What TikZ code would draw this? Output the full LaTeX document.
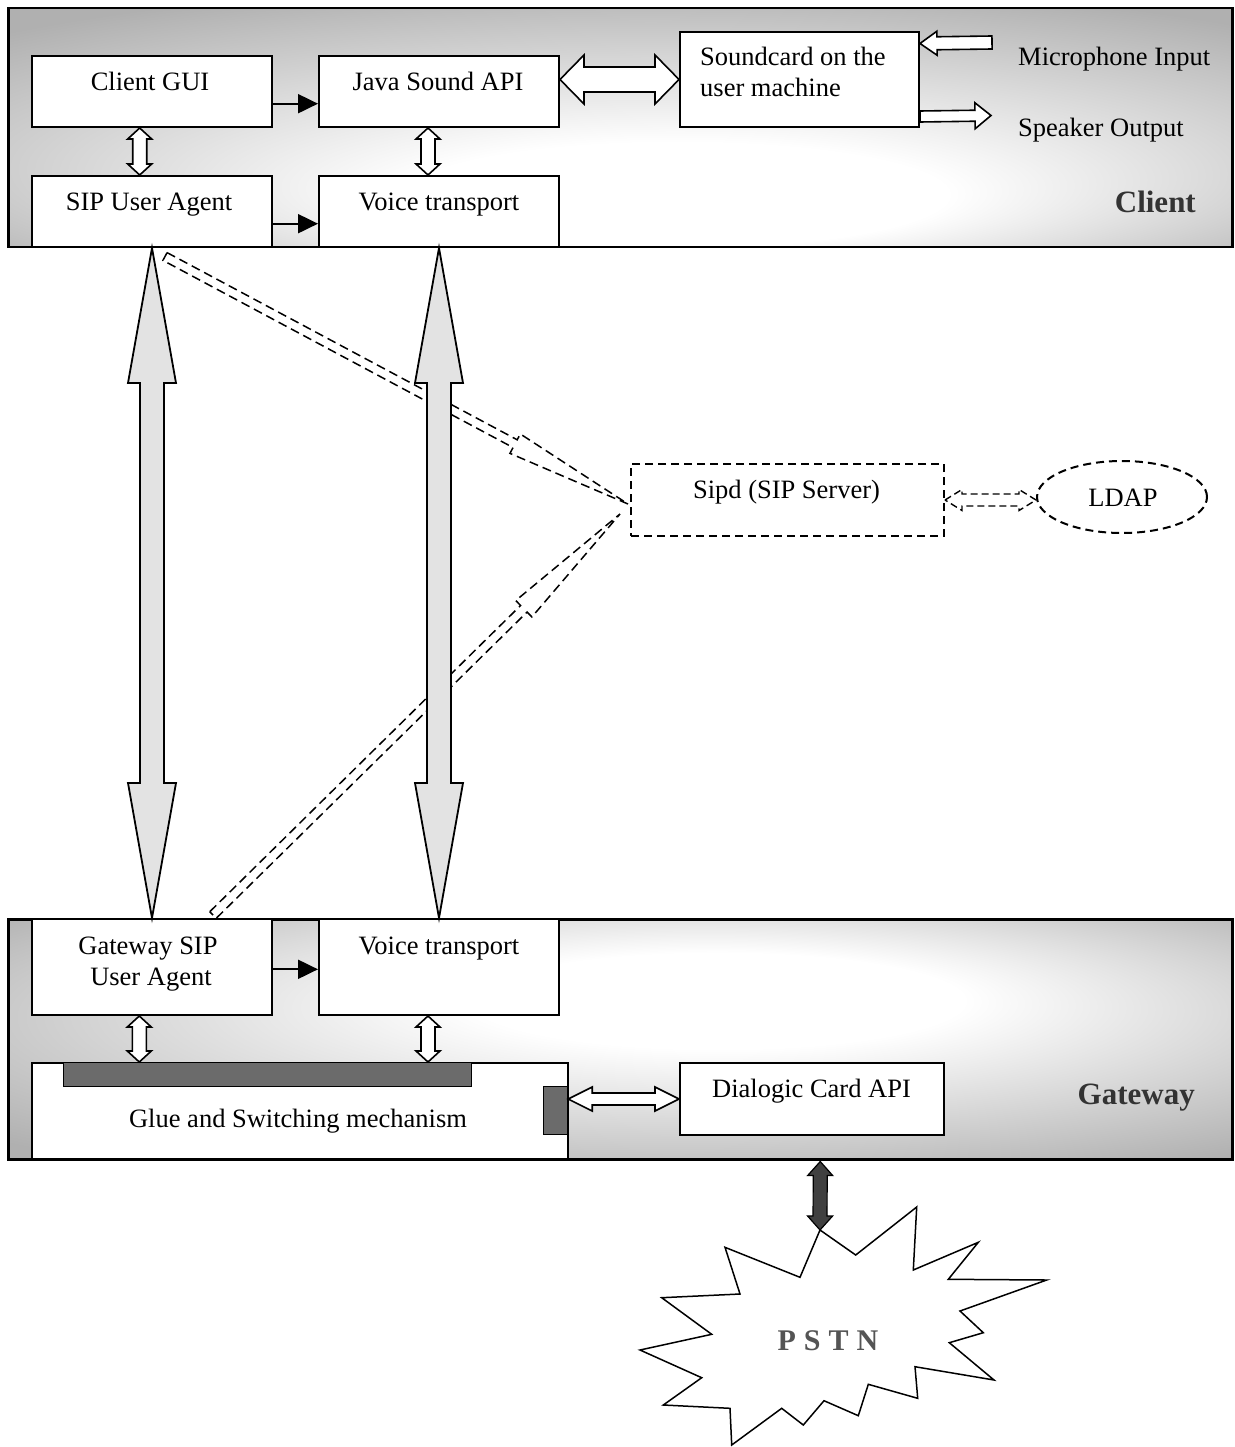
\documentclass[tikz,border=0pt]{standalone}
\usepackage{fontspec}
\setmainfont{Liberation Serif}
\usetikzlibrary{calc,arrows.meta,shapes.geometric}

\pgfdeclareradialshading{clientshade}{\pgfpoint{3bp}{-18bp}}{color(0bp)=(white); color(11bp)=(white); color(36bp)=(black!31); color(50bp)=(black!31)}
\pgfdeclareradialshading{gatewayshade}{\pgfpoint{5bp}{10bp}}{color(0bp)=(white); color(10bp)=(white); color(36bp)=(black!31); color(50bp)=(black!31)}

\tikzset{
  panel/.style={draw, line width=2.5pt, anchor=north west, inner sep=0pt},
  box/.style={draw, fill=white, line width=2pt, anchor=north west, inner sep=0pt},
  txt/.style={anchor=base, inner sep=0pt, font=\fontsize{26.5}{31}\selectfont},
  ltxt/.style={txt, anchor=base west},
  boldlabel/.style={anchor=base east, inner sep=0pt, font=\bfseries\fontsize{31}{36}\selectfont, text=black!80},
  hollow/.style={draw, fill=white, line width=1.6pt, line join=miter},
  bigarrow/.style={draw, fill=black!11, line width=1.8pt, line join=miter},
  dasharrow/.style={draw, line width=1.5pt, dash pattern=on 9pt off 5pt},
  darkarrow/.style={draw, fill=black!75, line width=1.2pt},
  solidarrow/.style={line width=2pt, -{Triangle[length=20pt,width=19pt]}},
  darkbar/.style={draw, fill=black!58, line width=1.2pt, anchor=north west, inner sep=0pt},
  dashbox/.style={draw, line width=2pt, dash pattern=on 8pt off 5pt, inner sep=0pt},
}

% double-headed outline arrow: [style]{A}{B}{shaft half width}{head half width}{head length}
\newcommand\dblarrow[6][]{%
  \coordinate (da) at #2;
  \coordinate (db) at #3;
  \coordinate (dah) at ($(da)!#6!(db)$);
  \coordinate (dbh) at ($(db)!#6!(da)$);
  \path[#1] (da) -- ($(dah)!#5!90:(db)$) -- ($(dah)!#4!90:(db)$) -- ($(dbh)!#4!-90:(da)$) -- ($(dbh)!#5!-90:(da)$) -- (db) -- ($(dbh)!#5!90:(da)$) -- ($(dbh)!#4!90:(da)$) -- ($(dah)!#4!-90:(db)$) -- ($(dah)!#5!-90:(db)$) -- cycle;}
% single-headed outline arrow, head at B
\newcommand\onearrow[6][]{%
  \coordinate (oa) at #2;
  \coordinate (ob) at #3;
  \coordinate (obh) at ($(ob)!#6!(oa)$);
  \path[#1] ($(oa)!#4!90:(ob)$) -- ($(obh)!#4!-90:(oa)$) -- ($(obh)!#5!-90:(oa)$) -- (ob) -- ($(obh)!#5!90:(oa)$) -- ($(obh)!#4!90:(oa)$) -- ($(oa)!#4!-90:(ob)$) -- cycle;}

\begin{document}
\begin{tikzpicture}[x=1pt,y=-1pt]
\useasboundingbox (0,0) rectangle (1234,1447);
\fill[white] (0,0) rectangle (1234,1447);

% ---------- Client panel ----------
\node[panel, shade, shading=clientshade, minimum width=1224pt, minimum height=239pt] (client) at (7,7) {};
\node[box, minimum width=240pt, minimum height=71pt] (gui) at (31,55) {};
\node[box, minimum width=240pt, minimum height=71pt] (java) at (318,55) {};
\node[box, minimum width=239pt, minimum height=95pt] (sound) at (679,31) {};
\node[box, minimum width=240pt, minimum height=71pt] (sipua) at (31,175) {};
\node[box, minimum width=240pt, minimum height=71pt] (vt) at (318,175) {};

\node[txt] (tgui) at (150,90.7) {Client GUI};
\node[txt] (tjava) at (438,90.5) {Java Sound API};
\node[ltxt] (tsound1) at (700,66) {Soundcard on the};
\node[ltxt] (tsound2) at (700,97) {user machine};
\node[txt] (tsip) at (149,210.5) {SIP User Agent};
\node[txt] (tvt) at (439,210.5) {Voice transport};
\node[ltxt] (tmic) at (1018,66) {Microphone Input};
\node[ltxt] (tspk) at (1018,137) {Speaker Output};
\node[boldlabel] (tclient) at (1196,213) {Client};

\draw[solidarrow] ([yshift=-12.2pt]gui.east) -- ([yshift=-12.2pt]java.west);
\draw[solidarrow] ([yshift=-12.2pt]sipua.east) -- ([yshift=-12.2pt]vt.west);
\dblarrow[hollow]{([xshift=-12.3pt]gui.south)}{([xshift=-12.3pt]sipua.north)}{7pt}{12pt}{11pt}
\dblarrow[hollow]{([xshift=-11pt]java.south)}{([xshift=-11pt]vt.north)}{7pt}{12pt}{11pt}
\dblarrow[hollow]{(java.east |- sound.west)}{(sound.west)}{12.5pt}{24.5pt}{24pt}
\coordinate (micin) at (992,42.5);
\coordinate (spkout) at (991,115.5);
\onearrow[hollow]{(micin)}{([yshift=36pt]sound.east)}{6.5pt}{12pt}{17pt}
\onearrow[hollow]{([yshift=-37pt]sound.east)}{(spkout)}{5.5pt}{13pt}{16pt}

% ---------- Gateway panel ----------
\node[panel, shade, shading=gatewayshade, minimum width=1224pt, minimum height=240pt] (gateway) at (7,918) {};
\node[box, minimum width=240pt, minimum height=96pt] (gwsip) at (31,918) {};
\node[box, minimum width=240pt, minimum height=96pt] (gvt) at (318,918) {};
\node[box, minimum width=536pt, minimum height=96pt] (glue) at (31,1062) {};
\node[darkbar, minimum width=408pt, minimum height=24pt] (bar) at (63,1062) {};
\node[darkbar, minimum width=24pt, minimum height=48pt] (port) at (543,1086) {};
\node[box, minimum width=264pt, minimum height=72pt] (dial) at (679,1062) {};

\node[txt] (tgw1) at (148,954) {Gateway SIP};
\node[txt] (tgw2) at (151,985) {User Agent};
\node[txt] (tgvt) at (439,954) {Voice transport};
\node[txt] (tglue) at (298,1127) {Glue and Switching mechanism};
\node[txt] (tdial) at (811.5,1097.5) {Dialogic Card API};
\node[boldlabel] (tgateway) at (1195,1104) {Gateway};

\draw[solidarrow] ([yshift=-2.3pt]gwsip.east) -- ([yshift=-2.3pt]gvt.west);
\dblarrow[hollow]{([xshift=-12.7pt]gwsip.south)}{([xshift=-12.7pt]bar.north -| gwsip.south)}{7pt}{12pt}{11pt}
\dblarrow[hollow]{([xshift=-11pt]gvt.south)}{([xshift=-11pt]bar.north -| gvt.south)}{7pt}{12pt}{11pt}
\dblarrow[hollow]{(port.east |- dial.west)}{(dial.west)}{6pt}{12pt}{24pt}

% ---------- SIP server ----------
\node[dashbox, minimum width=313pt, minimum height=72pt, anchor=north west] (sipd) at (630,463) {};
\node[txt] (tsipd) at (786.5,498) {Sipd (SIP Server)};
\node[dashbox, ellipse, minimum width=170pt, minimum height=72pt] (ldap) at (1122,497) {};
\node[txt] (tldap) at (1123,506.5) {LDAP};
\dblarrow[dasharrow, dash pattern=on 7pt off 4pt, line width=1.4pt]{(sipd.east)}{(ldap.west |- sipd.east)}{6pt}{10.5pt}{17pt}

% dashed signalling arrows
\onearrow[dasharrow]{([shift={(13,8.5)}]sipua.south)}{([shift={(-2,4)}]sipd.west)}{4.4pt}{11pt}{128pt}
\onearrow[dasharrow]{([shift={(61,-3)}]gwsip.north)}{([shift={(-10,14)}]sipd.west)}{4.6pt}{11.5pt}{135pt}

% big media / signalling arrows
\dblarrow[bigarrow]{(sipua.south)}{(gwsip.north)}{12pt}{24pt}{135pt}
\dblarrow[bigarrow]{(vt.south)}{(gvt.north)}{12pt}{24pt}{135pt}

% ---------- PSTN ----------
\draw[fill=white, line width=1.5pt, line join=miter] (820,1230) -- (855.7,1255) -- (916.7,1207) -- (913.3,1270) -- (978.3,1242.3) -- (948.3,1279.3) -- (1046.7,1280) -- (960,1311) -- (983.3,1332.7) -- (949.3,1342.7) -- (994,1380) -- (915,1366.7) -- (917.7,1398.3) -- (868.3,1384.3) -- (858.3,1415.7) -- (824,1400.7) -- (803.3,1425) -- (781.7,1408.3) -- (731.7,1445) -- (730,1408.3) -- (663.3,1405) -- (701.7,1377.7) -- (640,1350) -- (711.7,1334.3) -- (661.7,1297.7) -- (740,1294) -- (725,1247.3) -- (800,1277.3) -- cycle;
\coordinate (startop) at (820,1230);
\node[anchor=base, inner sep=0pt, font=\bfseries\fontsize{30}{35}\selectfont, text=black!67] (tpstn) at (828,1350) {\spaceskip=8pt P S T N};
\dblarrow[darkarrow]{([xshift=200pt, yshift=-1pt]gateway.south)}{(startop)}{7pt}{12.5pt}{14pt}

\end{tikzpicture}
\end{document}
